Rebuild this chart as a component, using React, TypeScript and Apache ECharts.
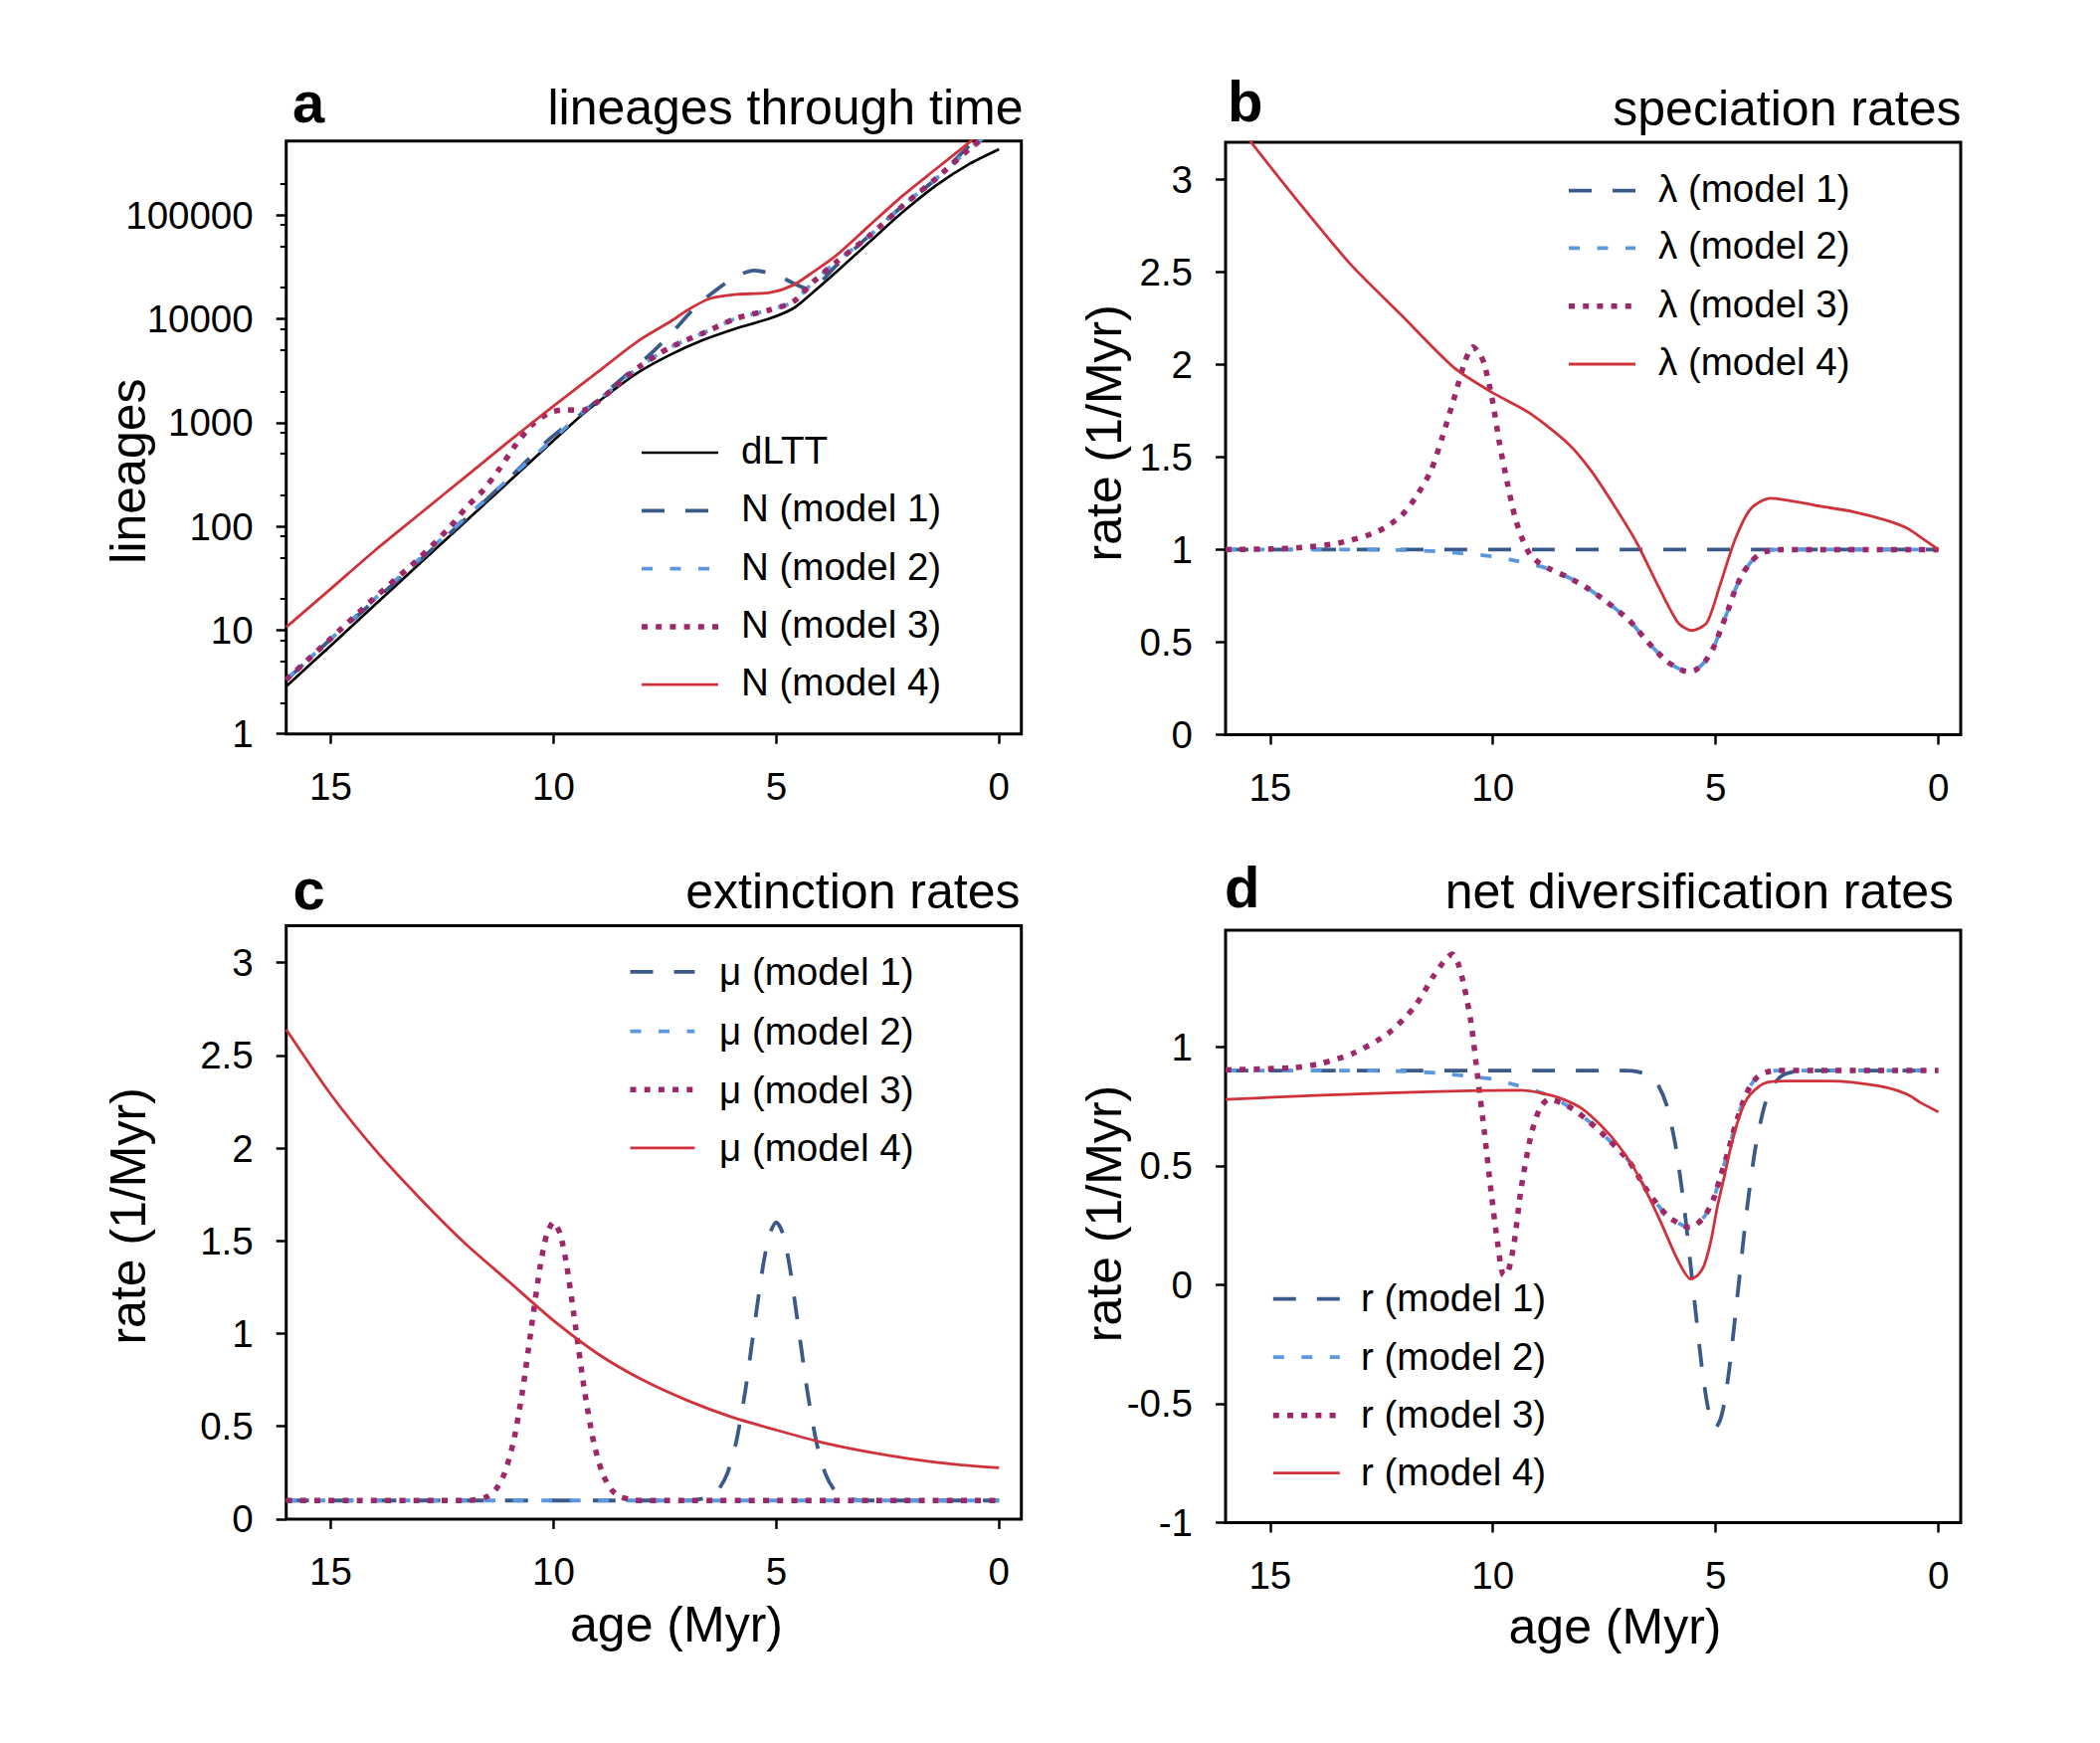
import React, { useEffect, useRef } from "react";
import * as echarts from "echarts";

const FONT = "'Liberation Sans', Arial, Helvetica, sans-serif";

// ---------- tick values ----------
const AGE_TICKS = [0, 5, 10, 15];
const LOG_TICKS = [1, 10, 100, 1000, 10000, 100000];
const LOG_MINOR_TICKS = [2, 5, 8, 20, 50, 80, 200, 500, 800, 2000, 5000, 8000, 20000, 50000, 80000, 200000];
const RATE_TICKS = [0, 0.5, 1, 1.5, 2, 2.5, 3];
const NET_TICKS = [-1, -0.5, 0, 0.5, 1];

// ---------- text ----------
const PANEL_LETTERS = ["a", "b", "c", "d"];
const PANEL_TITLES = ["lineages through time", "speciation rates", "extinction rates", "net diversification rates"];
const LEGEND_A = ["dLTT", "N (model 1)", "N (model 2)", "N (model 3)", "N (model 4)"];
const LEGEND_B = ["λ (model 1)", "λ (model 2)", "λ (model 3)", "λ (model 4)"];
const LEGEND_C = ["μ (model 1)", "μ (model 2)", "μ (model 3)", "μ (model 4)"];
const LEGEND_D = ["r (model 1)", "r (model 2)", "r (model 3)", "r (model 4)"];

// ---------- panel a: lineages (age, N) ----------
const N_DLTT = [[16, 2.86], [15, 7.1], [14, 17.7], [13, 43.9], [12, 109], [11, 270], [10, 671], [9.35, 1200], [9, 1585], [8.12, 3000], [7.38, 4500], [6.63, 6270], [5.89, 8110], [5.14, 10100], [4.62, 12600], [4.25, 16900], [3.65, 28300], [2.91, 55000], [2.16, 107000], [1.42, 192000], [0.67, 310000], [0, 431000]];
const N_M1 = [[16, 3.3], [15, 8.2], [14, 19.5], [13, 47], [12, 115], [11, 290], [10.1, 690], [9.35, 1240], [8.4, 2800], [7.9, 4270], [7.4, 6900], [6.8, 13200], [6.4, 18200], [5.9, 25700], [5.5, 29200], [5.0, 26300], [4.55, 21400], [4.25, 19100], [3.65, 32800], [2.91, 63500], [2.16, 123000], [1.42, 222000], [0.67, 463000], [0, 776000]];
const N_M2 = [[16, 3.33], [15, 8.2], [14, 20.3], [13, 49], [12, 119], [11, 288], [10, 700], [9.35, 1260], [8.6, 2240], [8.1, 3390], [7.4, 5250], [6.6, 7410], [5.9, 10100], [5.14, 12200], [4.62, 14600], [4.17, 22700], [3.65, 35300], [2.91, 63100], [2.16, 123000], [1.42, 224000], [0.67, 431000], [0, 724000]];
const N_M3 = [[16, 3.33], [15, 8.3], [14, 20.8], [13, 50], [12.33, 98], [11.96, 152], [11.59, 220], [11.22, 355], [10.84, 617], [10.47, 960], [10.1, 1240], [9.73, 1330], [9.35, 1310], [8.98, 1620], [8.6, 2240], [8.1, 3390], [7.4, 5250], [6.6, 7410], [5.9, 10100], [5.14, 12200], [4.62, 14600], [4.17, 22700], [3.65, 35300], [2.91, 63100], [2.16, 123000], [1.42, 224000], [0.67, 431000], [0, 724000]];
const N_M4 = [[16, 10.7], [15, 25], [14, 59], [13, 132], [12, 295], [11, 660], [10, 1445], [9, 3090], [8.12, 6040], [7.38, 9400], [6.93, 12600], [6.48, 15700], [5.89, 17200], [5.14, 17900], [4.62, 21100], [4.17, 28300], [3.65, 40900], [2.91, 79300], [2.16, 154000], [1.42, 277000], [0.67, 500000], [0, 850000]];

// ---------- panel b: speciation rates ----------
const LAM_M1 = [[16, 1], [0, 1]];
const LAM_M2 = [[16, 1], [13, 1], [12, 0.997], [11.2, 0.989], [10.5, 0.975], [10, 0.963], [9.6, 0.945], [9.17, 0.922], [8.74, 0.895], [8.31, 0.85], [7.9, 0.795], [7.46, 0.72], [6.95, 0.62], [6.52, 0.5], [6.09, 0.395], [5.75, 0.348], [5.6, 0.34], [5.45, 0.35], [5.24, 0.395], [5.05, 0.47], [4.9, 0.56], [4.72, 0.675], [4.56, 0.785], [4.38, 0.875], [4.21, 0.932], [4.05, 0.97], [3.87, 0.99], [3.6, 1], [0, 1]];
const LAM_M3 = [[16, 1], [15, 1.003], [14.29, 1.011], [13.44, 1.036], [12.58, 1.098], [12.07, 1.18], [11.73, 1.283], [11.39, 1.427], [11.13, 1.612], [10.87, 1.818], [10.62, 2.02], [10.45, 2.095], [10.3, 2.06], [10.19, 2.0], [10.02, 1.818], [9.85, 1.572], [9.68, 1.365], [9.51, 1.18], [9.34, 1.057], [9.17, 0.975], [8.95, 0.925], [8.74, 0.897], [8.31, 0.85], [7.9, 0.795], [7.46, 0.72], [6.95, 0.62], [6.52, 0.5], [6.09, 0.395], [5.75, 0.348], [5.6, 0.34], [5.45, 0.35], [5.24, 0.395], [5.05, 0.47], [4.9, 0.56], [4.72, 0.675], [4.56, 0.785], [4.38, 0.875], [4.21, 0.932], [4.05, 0.97], [3.87, 0.99], [3.6, 1], [0, 1]];
const LAM_M4 = [[16, 3.39], [15.49, 3.22], [14.29, 2.856], [13.18, 2.537], [12.07, 2.27], [10.87, 1.982], [10.02, 1.849], [9.17, 1.736], [8.31, 1.572], [7.8, 1.427], [7.29, 1.242], [6.77, 1.036], [6.26, 0.789], [5.84, 0.604], [5.54, 0.563], [5.2, 0.604], [4.9, 0.81], [4.56, 1.057], [4.21, 1.221], [3.78, 1.277], [2.61, 1.232], [1.92, 1.205], [1.2, 1.16], [0.7, 1.115], [0.3, 1.05], [0, 1.0]];

// ---------- panel c: extinction rates ----------
const MU_M1 = [[16, 0.1], [7, 0.1], [6.8, 0.103], [6.5, 0.12], [6.3, 0.158], [6.1, 0.246], [5.9, 0.416], [5.7, 0.685], [5.5, 1.027], [5.3, 1.362], [5.15, 1.537], [5.0, 1.6], [4.85, 1.537], [4.7, 1.362], [4.5, 1.027], [4.3, 0.685], [4.1, 0.416], [3.9, 0.246], [3.7, 0.158], [3.5, 0.12], [3.2, 0.103], [3, 0.1], [0, 0.1]];
const MU_M2 = [[16, 0.1], [0, 0.1]];
const MU_M3 = [[16, 0.1], [12, 0.1], [11.8, 0.103], [11.5, 0.12], [11.3, 0.158], [11.1, 0.246], [10.9, 0.416], [10.7, 0.685], [10.5, 1.027], [10.3, 1.362], [10.15, 1.537], [10, 1.6], [9.85, 1.537], [9.7, 1.362], [9.5, 1.027], [9.3, 0.685], [9.1, 0.416], [8.9, 0.246], [8.7, 0.158], [8.5, 0.12], [8.2, 0.103], [8, 0.1], [0, 0.1]];
const MU_M4 = [[16, 2.64], [15, 2.29], [14, 1.99], [13, 1.73], [12, 1.49], [11, 1.28], [10, 1.07], [9, 0.89], [8, 0.75], [7, 0.64], [6, 0.55], [5, 0.48], [4, 0.415], [3, 0.365], [2, 0.325], [1, 0.295], [0, 0.276]];

// ---------- panel d: net diversification rates ----------
const R_M1 = [[16, 0.9], [7, 0.9], [6.8, 0.897], [6.5, 0.88], [6.3, 0.842], [6.1, 0.754], [5.9, 0.584], [5.7, 0.315], [5.5, -0.027], [5.3, -0.362], [5.15, -0.537], [5.0, -0.6], [4.85, -0.537], [4.7, -0.362], [4.5, -0.027], [4.3, 0.315], [4.1, 0.584], [3.9, 0.754], [3.7, 0.842], [3.5, 0.88], [3.2, 0.897], [3, 0.9], [0, 0.9]];
const R_M2 = [[16, 0.9], [13, 0.9], [12, 0.897], [11.2, 0.889], [10.5, 0.875], [10, 0.864], [9.6, 0.845], [9.17, 0.822], [8.74, 0.795], [8.31, 0.75], [7.9, 0.695], [7.46, 0.62], [6.95, 0.52], [6.52, 0.39], [6.09, 0.29], [5.75, 0.25], [5.6, 0.242], [5.45, 0.25], [5.24, 0.29], [5.05, 0.36], [4.9, 0.45], [4.72, 0.56], [4.56, 0.67], [4.38, 0.77], [4.21, 0.84], [4.05, 0.875], [3.87, 0.893], [3.6, 0.9], [0, 0.9]];
const R_M3 = [[16, 0.903], [14.5, 0.912], [13.86, 0.93], [13.11, 0.975], [12.36, 1.055], [11.76, 1.168], [11.31, 1.304], [11.05, 1.37], [10.91, 1.39], [10.78, 1.35], [10.64, 1.25], [10.49, 1.1], [10.34, 0.87], [10.19, 0.64], [10.04, 0.39], [9.89, 0.17], [9.76, 0.04], [9.65, 0.06], [9.52, 0.18], [9.37, 0.4], [9.15, 0.624], [8.95, 0.74], [8.74, 0.78], [8.31, 0.75], [7.9, 0.695], [7.46, 0.62], [6.95, 0.52], [6.52, 0.39], [6.09, 0.29], [5.75, 0.25], [5.6, 0.242], [5.45, 0.25], [5.24, 0.29], [5.05, 0.36], [4.9, 0.45], [4.72, 0.56], [4.56, 0.67], [4.38, 0.77], [4.21, 0.84], [4.05, 0.875], [3.87, 0.893], [3.6, 0.9], [0, 0.9]];
const R_M4 = [[16, 0.779], [14, 0.795], [12.36, 0.806], [10.5, 0.815], [9.37, 0.817], [8.9, 0.805], [8.47, 0.783], [8.0, 0.74], [7.58, 0.67], [7.2, 0.59], [6.83, 0.489], [6.5, 0.37], [6.23, 0.262], [5.85, 0.103], [5.56, 0.024], [5.4, 0.04], [5.26, 0.081], [5.1, 0.19], [4.96, 0.33], [4.8, 0.46], [4.66, 0.579], [4.48, 0.7], [4.29, 0.783], [4.05, 0.83], [3.84, 0.851], [3.39, 0.856], [2.5, 0.856], [1.89, 0.85], [1.14, 0.828], [0.7, 0.8], [0.4, 0.765], [0, 0.726]];

// ---------- styles ----------
type St = { color: string; width: number; dash: number[] | null };
const STYLES: St[] = [
  { color: "#000000", width: 2.7, dash: null },
  { color: "#3A5A8A", width: 3.8, dash: [23, 21] },
  { color: "#5B98DE", width: 3.8, dash: [11, 17.5] },
  { color: "#9C286A", width: 5.5, dash: [6, 8.2] },
  { color: "#D0323C", width: 2.8, dash: null },
];

// grids: left, top, width, height
const GRIDS = [
  [287.7, 141.7, 739, 596],
  [1232, 143, 739, 595.5],
  [287.7, 930.4, 739, 596.5],
  [1232, 935, 739, 595.5],
];

const TICK_FONT = 38.5;

function lineSeries(name: string, data: number[][], st: St, idx: number) {
  return {
    type: "line",
    name,
    data,
    xAxisIndex: idx,
    yAxisIndex: idx,
    showSymbol: false,
    symbol: "none",
    smooth: 0.25,
    silent: true,
    lineStyle: { color: st.color, width: st.width, type: st.dash ? st.dash : "solid", cap: "butt", join: "round" },
    clip: true,
  };
}

function legendGraphics(names: string[], styleIdx: number[], rows: number[], x1: number, x2: number, tx: number, dy: number) {
  const out: any[] = [];
  names.forEach((n, i) => {
    const st = STYLES[styleIdx[i]];
    const style: any = { stroke: st.color, lineWidth: st.width };
    if (st.dash) style.lineDash = st.dash;
    out.push({ type: "line", silent: true, shape: { x1, y1: rows[i], x2, y2: rows[i] }, style });
    out.push({
      type: "text",
      silent: true,
      x: tx,
      y: rows[i] + dy,
      style: {
        text: n, fontSize: TICK_FONT, fontFamily: FONT, fill: "#000",
        textAlign: "left", align: "left", textVerticalAlign: "middle", verticalAlign: "middle",
      },
    });
  });
  return out;
}

function txt(text: string, x: number, y: number, size: number, align: string, opts: any = {}) {
  return {
    type: "text",
    silent: true,
    x, y,
    rotation: opts.rotation || 0,
    style: {
      text, fontSize: size, fontFamily: FONT, fontWeight: opts.bold ? "bold" : "normal", fill: "#000",
      textAlign: align, align, textVerticalAlign: "middle", verticalAlign: "middle",
    },
  };
}

function buildOption() {
  const tickStyle = { color: "#000", width: 2.5 };
  const labelBase = { margin: 33, fontSize: TICK_FONT, fontFamily: FONT, color: "#000" };
  const noLine = { show: false, onZero: false };

  const xAxis = GRIDS.map((_, i) => ({
    type: "value", gridIndex: i, inverse: true, min: -0.5, max: 16, position: "bottom",
    axisLine: noLine, splitLine: { show: false },
    axisTick: { show: true, length: 10, lineStyle: tickStyle, customValues: AGE_TICKS },
    axisLabel: { ...labelBase, customValues: AGE_TICKS },
  }));

  const yAxis: any[] = [
    {
      type: "log", logBase: 10, gridIndex: 0, min: 1, max: 517000, position: "left",
      axisLine: noLine, splitLine: { show: false }, minorTick: { show: false },
      axisTick: { show: true, length: 10, lineStyle: tickStyle, customValues: LOG_TICKS },
      axisLabel: { ...labelBase, customValues: LOG_TICKS, formatter: (v: number) => String(Math.round(v)) },
    },
    {
      type: "value", gridIndex: 1, min: 0, max: 3.2, position: "left",
      axisLine: noLine, splitLine: { show: false },
      axisTick: { show: true, length: 10, lineStyle: tickStyle, customValues: RATE_TICKS },
      axisLabel: { ...labelBase, customValues: RATE_TICKS },
    },
    {
      type: "value", gridIndex: 2, min: 0, max: 3.2, position: "left",
      axisLine: noLine, splitLine: { show: false },
      axisTick: { show: true, length: 10, lineStyle: tickStyle, customValues: RATE_TICKS },
      axisLabel: { ...labelBase, customValues: RATE_TICKS },
    },
    {
      type: "value", gridIndex: 3, min: -1, max: 1.49, position: "left",
      axisLine: noLine, splitLine: { show: false },
      axisTick: { show: true, length: 10, lineStyle: tickStyle, customValues: NET_TICKS },
      axisLabel: { ...labelBase, customValues: NET_TICKS },
    },
    {
      type: "log", logBase: 10, gridIndex: 0, min: 1, max: 517000, position: "left", offset: 0,
      axisLine: noLine, splitLine: { show: false }, minorTick: { show: false },
      axisTick: { show: true, length: 6, lineStyle: { color: "#000", width: 2 }, customValues: LOG_MINOR_TICKS },
      axisLabel: { show: false, customValues: LOG_MINOR_TICKS },
    },
  ];

  const series = [
    lineSeries(LEGEND_A[0], N_DLTT, STYLES[0], 0),
    lineSeries(LEGEND_A[1], N_M1, STYLES[1], 0),
    lineSeries(LEGEND_A[2], N_M2, STYLES[2], 0),
    lineSeries(LEGEND_A[3], N_M3, STYLES[3], 0),
    lineSeries(LEGEND_A[4], N_M4, STYLES[4], 0),
    lineSeries(LEGEND_B[0], LAM_M1, STYLES[1], 1),
    lineSeries(LEGEND_B[1], LAM_M2, STYLES[2], 1),
    lineSeries(LEGEND_B[2], LAM_M3, STYLES[3], 1),
    lineSeries(LEGEND_B[3], LAM_M4, STYLES[4], 1),
    lineSeries(LEGEND_C[0], MU_M1, STYLES[1], 2),
    lineSeries(LEGEND_C[1], MU_M2, STYLES[2], 2),
    lineSeries(LEGEND_C[2], MU_M3, STYLES[3], 2),
    lineSeries(LEGEND_C[3], MU_M4, STYLES[4], 2),
    lineSeries(LEGEND_D[0], R_M1, STYLES[1], 3),
    lineSeries(LEGEND_D[1], R_M2, STYLES[2], 3),
    lineSeries(LEGEND_D[2], R_M3, STYLES[3], 3),
    lineSeries(LEGEND_D[3], R_M4, STYLES[4], 3),
  ];

  const graphic: any[] = [
    // panel letters
    txt(PANEL_LETTERS[0], 294, 102.6, 58, "left", { bold: true }),
    txt(PANEL_LETTERS[1], 1234, 101.5, 58, "left", { bold: true }),
    txt(PANEL_LETTERS[2], 294.5, 893.2, 58, "left", { bold: true }),
    txt(PANEL_LETTERS[3], 1231, 891.6, 58, "left", { bold: true }),
    // titles
    txt(PANEL_TITLES[0], 1028.5, 108, 50, "right"),
    txt(PANEL_TITLES[1], 1971.5, 109, 50, "right"),
    txt(PANEL_TITLES[2], 1025.5, 895.5, 50, "right"),
    txt(PANEL_TITLES[3], 1964, 896, 50, "right"),
    // axis titles
    txt("lineages", 129, 473.6, 50, "center", { rotation: Math.PI / 2 }),
    txt("rate (1/Myr)", 1110, 435.3, 50, "center", { rotation: Math.PI / 2 }),
    txt("rate (1/Myr)", 129, 1222.4, 50, "center", { rotation: Math.PI / 2 }),
    txt("rate (1/Myr)", 1110, 1220, 50, "center", { rotation: Math.PI / 2 }),
    txt("age (Myr)", 680, 1633, 50, "center"),
    txt("age (Myr)", 1623.5, 1635.3, 50, "center"),
    ...legendGraphics(LEGEND_A, [0, 1, 2, 3, 4], [455, 513.3, 571.6, 629.9, 688.2], 645, 722, 745, -2.5),
    ...legendGraphics(LEGEND_B, [1, 2, 3, 4], [191.7, 249.3, 307.7, 366], 1577, 1644, 1667, -2.5),
    ...legendGraphics(LEGEND_C, [1, 2, 3, 4], [976.8, 1036.6, 1095.2, 1153.9], 633.5, 698.4, 723, 0),
    ...legendGraphics(LEGEND_D, [1, 2, 3, 4], [1305.6, 1364.2, 1422.7, 1480.6], 1279.8, 1346.8, 1368, -1),
  ];

  return {
    animation: false,
    backgroundColor: "#ffffff",
    textStyle: { fontFamily: FONT },
    grid: GRIDS.map((g) => ({
      left: g[0], top: g[1], width: g[2], height: g[3],
      show: true, borderColor: "#000", borderWidth: 3, backgroundColor: "transparent",
      containLabel: false, outerBoundsMode: "none",
    })),
    xAxis,
    yAxis,
    series,
    graphic,
  };
}

export default function App() {
  const ref = useRef<HTMLDivElement>(null);
  useEffect(() => {
    if (!ref.current) return;
    const chart = echarts.init(ref.current, null, { renderer: "svg" });
    chart.setOption(buildOption() as any);
    return () => chart.dispose();
  }, []);
  return (
    <div
      ref={ref}
      style={{ position: "absolute", left: 0, top: 0, width: 2111, height: 1752, background: "#fff" }}
    />
  );
}
